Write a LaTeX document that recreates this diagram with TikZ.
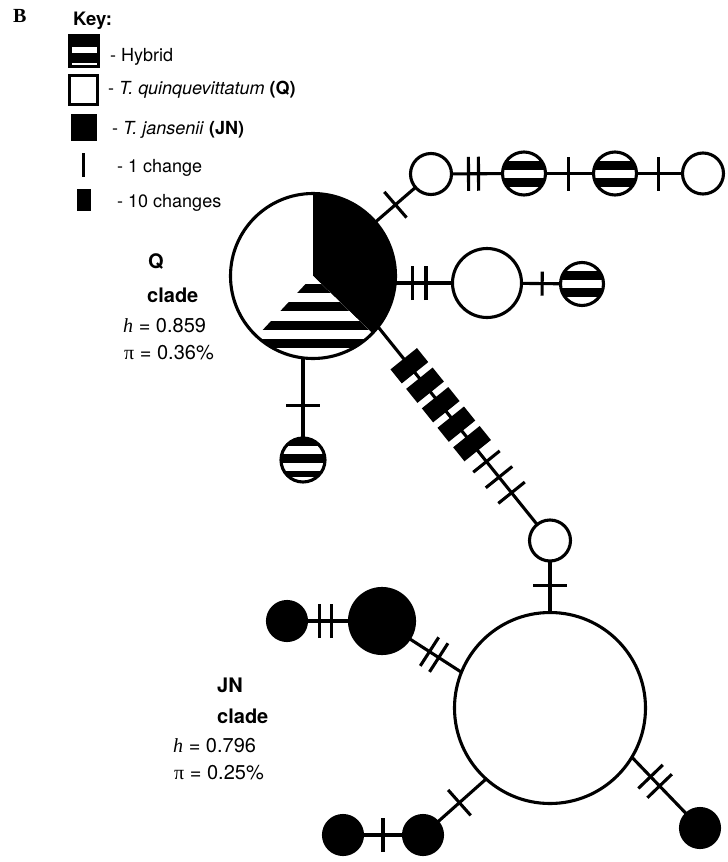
\documentclass[tikz,border=0pt]{standalone}
\usepackage{fontspec}
\setmainfont{TeX Gyre Heros}
\newfontfamily\serifrm{Liberation Serif}
\usetikzlibrary{decorations.markings}

\tikzset{
  lw/.style={line width=3.1pt},
  hap/.style={circle, draw, lw, inner sep=0pt, outer sep=0pt, minimum size=#1},
  qn/.style={hap=#1, fill=white},
  jn/.style={hap=#1, fill=black},
  % horizontal black bands inside a hybrid haplotype, given as bottom/top offsets
  bands/.style={path picture={
      \foreach \a/\b in {#1}{
        \fill[black] ([shift={(-40pt,\a pt)}]path picture bounding box.center)
          rectangle ([shift={(40pt,\b pt)}]path picture bounding box.center);}
    }},
  hyb/.style={hap=#1, fill=white},
  edge/.style={lw},
  tk/.style={postaction={decorate, decoration={markings,
      mark=at position #1 with {\draw[line width=3.1pt] (0pt,-17pt) -- (0pt,17pt);}}}},
  tks/.style={postaction={decorate, decoration={markings,
      mark=at position #1 with {\draw[line width=3.1pt] (0pt,-12pt) -- (0pt,12pt);}}}},
  tenbox/.style={postaction={decorate, decoration={markings,
      mark=at position #1 with {\fill (-9pt,-17pt) rectangle (9pt,17pt);}}}},
  keytxt/.style={anchor=base west, inner sep=0pt, font=\fontsize{18}{21}\selectfont},
  cladetxt/.style={anchor=base west, inner sep=0pt, font=\fontsize{20}{24}\selectfont},
}

\begin{document}
\begin{tikzpicture}[x=1pt, y=1pt]
\useasboundingbox (0,0) rectangle (728,-862);

% ---- panel letter and key ----
\node[anchor=base west, inner sep=0pt, font=\serifrm\bfseries\fontsize{20}{24}\selectfont] (panel) at (13,-23) {B};
\node[anchor=base west, inner sep=0pt, font=\bfseries\fontsize{18.5}{22}\selectfont] (keyhead) at (73,-25) {Key:};

% hybrid swatch
\fill (68,-34) rectangle (100,-68);
\fill[white] (72,-46.7) rectangle (97.3,-53.3);
\fill[white] (72,-63.3) rectangle (97.3,-64.6);
\node[keytxt] (khyb) at (110,-61) {- Hybrid};
% T. quinquevittatum swatch
\draw[lw] (69.8,-75.5) rectangle (97.8,-104.5);
\node[keytxt] (kq) at (108,-94) {- \textit{T. quinquevittatum} \textbf{(Q)}};
% T. jansenii swatch
\fill (71,-114.3) rectangle (97.3,-141);
\node[keytxt] (kjn) at (112,-134) {- \textit{T. jansenii} \textbf{(JN)}};
% mutation symbols
\fill (81.5,-153.3) rectangle (85.2,-176.7);
\node[keytxt] (k1) at (117,-172) {- 1 change};
\fill (76.7,-189) rectangle (90.7,-211);
\node[keytxt] (k10) at (117,-207) {- 10 changes};

% ---- Q clade: central haplotype as a pie ----
\coordinate (pc) at (313,-276);
\def\pr{82.4}
\fill[white] (pc) -- ++(90:\pr) arc[start angle=90, end angle=227, radius=\pr] -- cycle;
\fill[black] (pc) -- ++(-44:\pr) arc[start angle=-44, end angle=90, radius=\pr] -- cycle;
\begin{scope}
  \clip (pc) -- ++(227:\pr) arc[start angle=227, end angle=316, radius=\pr] -- cycle;
  \fill[white] (200,-260) rectangle (430,-370);
  \foreach \yy in {284,302.3,320.6,338.9,357.2}
    \fill ({200},{-\yy}) rectangle ({430},{-\yy-9});
\end{scope}
\node[hap=165] (pie) at (pc) {};

% haplotypes of the Q clade
\node[qn=41] (q1) at (431,-174) {};
\node[hyb=43, bands={{4/13,-13/-4}}] (h1) at (524,-173.5) {};
\node[hyb=43, bands={{4/13,-13/-4}}] (h2) at (615,-173.5) {};
\node[qn=41] (q2) at (703,-173.5) {};
\node[qn=69] (qm) at (487,-283) {};
\node[hyb=43, bands={{4/13,-13/-4}}] (h3) at (582,-284) {};
\node[hyb=44, bands={{14/25,-2.7/6,-16.7/-10.7}}] (h4) at (303,-460) {};

% ---- JN clade ----
\node[qn=41] (link) at (550,-540.5) {};
\node[qn=191] (jnc) at (550,-708) {};
\node[jn=65] (jb) at (382,-621) {};
\node[jn=39] (js) at (287,-621) {};
\node[jn=39] (jl) at (423,-835) {};
\node[jn=39] (jl0) at (343,-835) {};
\node[jn=39] (jr) at (700,-828) {};

% ---- connectors with mutation marks ----
\draw[edge, tk=0.5] (pie) -- (q1);
\draw[edge, tk=17pt, tk=27pt] (q1) -- (h1);
\draw[edge, tk=0.47] (h1) -- (h2);
\draw[edge, tk=0.47] (h2) -- (q2);
\draw[edge, tk=17pt, tk=30.5pt] (pie.east |- qm) -- (qm);
\draw[edge, tks=0.53] (qm) -- (h3);
\draw[edge, tk=0.59] (pie.south -| h4) -- (h4);

\draw[edge, tenbox=50pt, tenbox=75pt, tenbox=100pt, tenbox=125pt, tenbox=150pt,
      tk=173pt, tk=193pt, tk=213pt] (pie.-38.6) -- (link);
\draw[edge, tk=0.48] (link) -- (jnc);

\draw[edge, tk=13pt, tk=25pt] (js) -- (jb);
\draw[edge, tk=24pt, tk=35pt] (jb) -- (jnc.158.2);
\draw[edge, tk=0.5] (jl0) -- (jl);
\draw[edge, tk=0.45] (jl) -- (jnc.228.7);
\draw[edge, tk=27pt, tk=40pt] (jnc.-31.3) -- (jr);

% ---- clade labels ----
\node[cladetxt, font=\bfseries\fontsize{20}{24}\selectfont] (qlab) at (148,-268) {Q};
\node[cladetxt, font=\bfseries\fontsize{20}{24}\selectfont] (qclade) at (147,-302) {clade};
\node[cladetxt] (qh) at (123,-332) {{\serifrm\itshape h} = 0.859};
\node[cladetxt] (qpi) at (124,-359) {{\serifrm π} = 0.36\%};

\node[cladetxt, font=\bfseries\fontsize{20}{24}\selectfont] (jlab) at (217,-692) {JN};
\node[cladetxt, font=\bfseries\fontsize{20}{24}\selectfont] (jclade) at (217,-723) {clade};
\node[cladetxt] (jh) at (173,-752) {{\serifrm\itshape h} = 0.796};
\node[cladetxt] (jpi) at (174,-779) {{\serifrm π} = 0.25\%};
\end{tikzpicture}
\end{document}
